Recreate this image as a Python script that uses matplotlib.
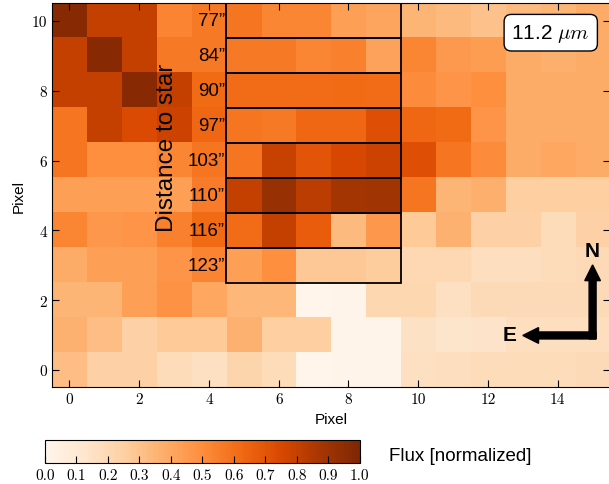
import matplotlib
matplotlib.use("Agg")
import matplotlib.pyplot as plt
from matplotlib.patches import Rectangle
import numpy as np

plt.rcParams['font.family'] = ['Liberation Sans', 'DejaVu Sans']
plt.rcParams['mathtext.fontset'] = 'cm'

# normalized flux, one list per image row (top row first)
row_10 = [0.97, 0.80, 0.80, 0.53, 0.57, 0.58, 0.52, 0.52, 0.43, 0.41, 0.35, 0.33, 0.30, 0.33, 0.35, 0.38]
row_9 = [0.80, 0.97, 0.80, 0.57, 0.57, 0.57, 0.57, 0.52, 0.54, 0.42, 0.52, 0.45, 0.44, 0.38, 0.37, 0.38]
row_8 = [0.80, 0.80, 0.97, 0.80, 0.62, 0.61, 0.61, 0.61, 0.62, 0.61, 0.50, 0.47, 0.49, 0.38, 0.38, 0.38]
row_7 = [0.58, 0.80, 0.74, 0.78, 0.63, 0.58, 0.57, 0.63, 0.63, 0.72, 0.63, 0.62, 0.47, 0.38, 0.38, 0.38]
row_6 = [0.58, 0.49, 0.49, 0.52, 0.58, 0.58, 0.79, 0.70, 0.75, 0.78, 0.72, 0.58, 0.50, 0.38, 0.40, 0.38]
row_5 = [0.43, 0.43, 0.43, 0.43, 0.56, 0.80, 0.92, 0.82, 0.88, 0.89, 0.58, 0.35, 0.37, 0.25, 0.25, 0.25]
row_4 = [0.52, 0.46, 0.47, 0.54, 0.62, 0.61, 0.80, 0.67, 0.33, 0.46, 0.27, 0.36, 0.24, 0.24, 0.18, 0.24]
row_3 = [0.38, 0.43, 0.43, 0.47, 0.53, 0.43, 0.49, 0.28, 0.28, 0.26, 0.20, 0.20, 0.17, 0.17, 0.18, 0.19]
row_2 = [0.35, 0.35, 0.43, 0.48, 0.40, 0.34, 0.34, 0.00, 0.01, 0.21, 0.21, 0.16, 0.19, 0.19, 0.19, 0.19]
row_1 = [0.36, 0.32, 0.24, 0.27, 0.27, 0.36, 0.25, 0.25, 0.01, 0.01, 0.15, 0.13, 0.14, 0.17, 0.17, 0.17]
row_0 = [0.32, 0.24, 0.24, 0.18, 0.16, 0.22, 0.18, 0.00, 0.01, 0.01, 0.16, 0.17, 0.18, 0.18, 0.18, 0.19]

distances = ['77”', '84”', '90”', '97”', '103”', '110”', '116”', '123”']
box_rows = [10, 9, 8, 7, 6, 5, 4, 3]

flux = np.array([row_10, row_9, row_8, row_7, row_6, row_5, row_4, row_3, row_2, row_1, row_0])

fig = plt.figure(figsize=(6.09, 4.85), dpi=100)
ax = fig.add_axes([0.0854, 0.199, 0.9163, 0.792])
im = ax.imshow(flux, cmap='Oranges', vmin=0, vmax=1, origin='upper',
               extent=(-0.5, 15.5, -0.5, 10.5), interpolation='nearest', aspect='auto')
ax.set_xlim(-0.5, 15.5)
ax.set_ylim(-0.5, 10.5)

# boxes along the slit
for r, lab in zip(box_rows, distances):
    ax.add_patch(Rectangle((4.5, r - 0.5), 5, 1, fill=False, ec='k', lw=1.3))
    ax.text(4.45, r, lab, ha='right', va='center', fontsize=13.5)

ax.text(2.8, 6.4, 'Distance to star', rotation=90, ha='center', va='center', fontsize=17.5)

ax.text(13.8, 9.66, r'11.2 $\mu m$', ha='center', va='center', fontsize=15,
        bbox=dict(boxstyle='round,pad=0.35', fc='white', ec='k', lw=1))

# compass
ax.arrow(15.0, 0.89, 0, 2.12, width=0.2, head_width=0.45, head_length=0.45,
         length_includes_head=True, color='k')
ax.arrow(15.1, 0.99, -2.1, 0, width=0.2, head_width=0.45, head_length=0.45,
         length_includes_head=True, color='k')
ax.text(14.98, 3.41, 'N', ha='center', va='center', fontsize=15, fontweight='bold')
ax.text(12.63, 1.03, 'E', ha='center', va='center', fontsize=15, fontweight='bold')

ax.set_xticks(np.arange(0, 16, 2))
ax.set_yticks(np.arange(0, 11, 2))
ax.tick_params(direction='in', top=True, right=True, length=5)
for t in ax.get_xticklabels() + ax.get_yticklabels():
    t.set_family('cmr10')
    t.set_fontsize(11)
ax.set_xlabel('Pixel', fontsize=11)
ax.set_ylabel('Pixel', fontsize=11)

cax = fig.add_axes([0.0739, 0.0433, 0.517, 0.0474])
cb = fig.colorbar(im, cax=cax, orientation='horizontal')
cb.set_ticks(np.arange(0, 1.01, 0.1))
cb.ax.tick_params(direction='in', length=5)
cb.ax.set_xticklabels(['%.1f' % v for v in np.arange(0, 1.01, 0.1)])
for t in cb.ax.get_xticklabels():
    t.set_family('cmr10')
    t.set_fontsize(11)
fig.text(0.638, 0.058, 'Flux [normalized]', fontsize=13.5, va='center')

fig.savefig('out.png', dpi=100)
